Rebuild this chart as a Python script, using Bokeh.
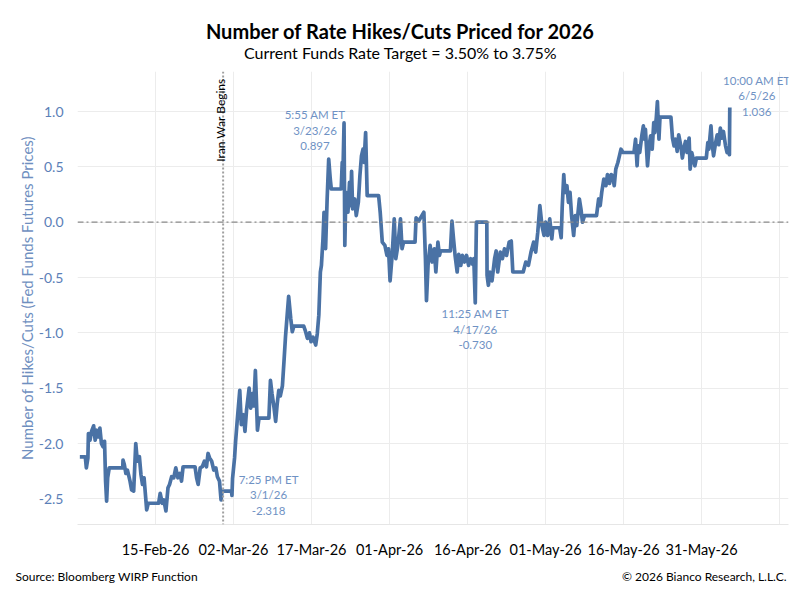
import numpy as np
import pandas as pd
from bokeh.layouts import column
from bokeh.models import (ColumnDataSource, DatetimeTickFormatter, FixedTicker,
                          Label, NumeralTickFormatter, Range1d, Span)
from bokeh.plotting import figure
from bokeh.embed import file_html
from bokeh.resources import INLINE

# days after 31-Jan-26 00:00 (intraday), and hikes/cuts priced for 2026
day_offsets = [
    0.45, 1.5, 1.7, 2.0, 2.1, 2.4, 2.7, 3.1, 3.4, 3.7, 4.0, 4.3, 4.6, 4.9, 5.2, 5.4, 5.6, 5.8, 6.1,
    8.7, 8.75, 9.0, 9.3, 9.6, 10.1, 10.4, 10.8, 11.2, 11.5, 11.9, 12.2, 12.5, 12.8, 13.3, 13.6,
    15.6, 15.9, 16.3, 16.6, 17.0, 17.4, 17.7, 18.1, 18.5, 18.9, 19.3, 19.7, 20.0, 20.3,
    22.6, 22.9, 23.2, 23.6, 24.0, 24.4, 24.8, 25.1, 25.4, 25.8, 26.2, 26.6, 26.9, 27.3, 27.6, 27.8,
    29.6, 29.7, 29.81, 30.2, 30.4, 30.7, 31.2, 31.5, 31.9, 32.2, 32.5, 33.0, 33.3, 33.6, 33.9,
    34.2, 34.6, 34.9, 36.8, 37.1, 37.4, 37.8, 38.1, 38.4, 38.7, 39.0, 39.4, 39.7, 40.0, 40.3,
    40.6, 41.0, 41.3, 41.6, 43.5, 43.8, 44.2, 44.6, 44.9, 45.3, 45.8, 46.1, 46.4, 46.7, 46.9,
    47.2, 47.4, 47.7, 48.0, 48.3, 48.6, 48.8, 50.7, 50.9, 51.0, 51.25, 51.4, 51.6, 52.0, 52.3,
    52.5, 52.7, 52.9, 53.3, 53.6, 54.0, 54.3, 54.6, 54.9, 55.1, 55.4, 55.7, 57.9, 58.2, 58.6,
    59.1, 59.5, 59.8, 60.1, 60.5, 60.9, 61.2, 61.6, 62.1, 62.4, 62.7, 64.9, 65.1, 65.6, 66.1,
    66.6, 66.9, 67.1, 67.4, 67.8, 68.2, 68.6, 68.9, 69.3, 69.6, 69.8, 71.7, 72.0, 72.3, 72.6,
    73.0, 73.3, 73.7, 74.0, 74.4, 74.8, 75.2, 75.6, 76.0, 76.2, 76.48, 76.7, 78.7, 78.75, 79.0,
    79.3, 79.7, 80.2, 80.5, 80.8, 81.3, 81.7, 82.1, 82.5, 83.0, 83.4, 83.7, 85.7, 86.2, 86.7,
    87.2, 87.7, 88.1, 88.5, 88.9, 89.3, 89.7, 90.0, 90.4, 90.8, 91.2, 91.4, 92.7, 93.0, 93.2,
    93.5, 93.7, 94.1, 94.4, 94.7, 95.0, 95.4, 95.7, 96.0, 96.5, 96.8, 97.1, 97.5, 99.8, 100.2,
    100.5, 100.8, 101.2, 101.6, 101.9, 102.3, 102.6, 102.9, 103.2, 103.5, 103.9, 104.2, 104.5,
    104.9, 107.0, 107.3, 107.6, 107.8, 108.1, 108.5, 108.8, 109.0, 109.2, 109.6, 109.9, 110.2,
    110.5, 110.8, 111.0, 111.3, 111.5, 111.8, 112.0, 114.1, 114.4, 114.7, 115.0, 115.3, 115.6,
    116.0, 116.3, 116.6, 116.9, 117.2, 117.6, 117.8, 118.1, 118.4, 118.7, 119.0, 120.9, 121.2,
    121.4, 121.8, 122.0, 122.3, 122.7, 123.0, 123.3, 123.6, 123.9, 124.2, 124.6, 124.9, 125.2,
    125.35, 125.4, 125.42,
]
hikes_cuts = [
    -2.12, -2.12, -2.22, -2.13, -1.91, -1.97, -1.89, -1.84, -1.97, -1.88, -1.94, -1.86, -2.00, -2.03, -1.98, -2.34, -2.52, -2.31, -2.22,
    -2.22, -2.15, -2.19, -2.27, -2.24, -2.34, -2.42, -2.43, -2.00, -2.16, -2.12, -2.28, -2.37, -2.31, -2.60, -2.54,
    -2.54, -2.45, -2.54, -2.51, -2.61, -2.40, -2.37, -2.30, -2.31, -2.22, -2.31, -2.27, -2.34, -2.21,
    -2.21, -2.31, -2.37, -2.22, -2.21, -2.16, -2.21, -2.09, -2.13, -2.16, -2.24, -2.22, -2.30, -2.34, -2.51, -2.43,
    -2.43, -2.47, -2.318, -2.13, -1.98, -1.80, -1.52, -1.83, -1.74, -1.89, -1.70, -1.50, -1.68, -1.55, -1.66,
    -1.34, -1.88, -1.77, -1.77, -1.43, -1.55, -1.68, -1.80, -1.64, -1.52, -1.57, -1.48, -1.26, -1.03, -0.85,
    -0.67, -0.87, -0.99, -0.94, -0.94, -0.98, -1.05, -1.00, -1.08, -1.04, -1.11, -1.01, -0.84, -0.45, -0.39,
    -0.15, 0.09, -0.24, 0.21, 0.57, 0.39, 0.30, 0.30, 0.54, 0.36, 0.897, -0.21, 0.27, 0.09, 0.36,
    0.15, 0.46, 0.12, 0.21, 0.06, 0.18, 0.42, 0.60, 0.66, 0.54, 0.81, 0.24, 0.24, 0.09, -0.18,
    -0.21, -0.30, -0.24, -0.53, -0.30, 0.03, -0.33, -0.21, 0.03, -0.24, -0.18, -0.18, 0.04, 0.01, 0.05,
    0.09, -0.33, -0.71, -0.39, -0.21, -0.36, -0.24, -0.45, -0.18, -0.30, -0.26, -0.26, 0.01, -0.15, -0.30,
    -0.45, -0.29, -0.39, -0.30, -0.36, -0.30, -0.39, -0.33, -0.38, -0.33, -0.730, 0.00, 0.00, -0.48, -0.57,
    -0.45, -0.53, -0.33, -0.26, -0.45, -0.27, -0.33, -0.24, -0.30, -0.18, -0.17, -0.45, -0.45, -0.36, -0.39,
    -0.27, -0.18, -0.27, -0.09, 0.15, -0.03, -0.12, 0.00, -0.12, 0.03, -0.15, -0.05, -0.05, -0.14, 0.14,
    0.43, 0.27, 0.33, 0.18, 0.27, 0.06, -0.12, 0.06, -0.03, 0.21, 0.12, 0.00, 0.06, 0.06, 0.21,
    0.15, 0.27, 0.39, 0.33, 0.43, 0.35, 0.43, 0.42, 0.33, 0.48, 0.54, 0.60, 0.66,
    0.63, 0.63, 0.75, 0.51, 0.69, 0.63, 0.78, 0.87, 0.75, 0.84, 0.51, 0.69, 0.78,
    0.66, 0.90, 0.81, 0.95, 1.09, 0.75, 0.95, 0.95, 0.76, 0.69, 0.75, 0.64, 0.79,
    0.69, 0.58, 0.67, 0.73, 0.63, 0.76, 0.48, 0.63, 0.57, 0.51, 0.58, 0.58, 0.72,
    0.66, 0.87, 0.72, 0.60, 0.72, 0.79, 0.70, 0.85, 0.76, 0.82, 0.69, 0.63, 0.67,
    0.61, 0.93, 1.036,
]

# labelled points
note_times = ["2026-03-01 19:25", "2026-03-23 05:55", "2026-04-17 11:25", "2026-06-05 10:00"]
note_values = [-2.318, 0.897, -0.730, 1.036]
note_texts = ["7:25 PM ET\n3/1/26\n-2.318", "5:55 AM ET\n3/23/26\n0.897",
              "11:25 AM ET\n4/17/26\n-0.730", "10:00 AM ET\n6/5/26\n1.036"]

tick_dates = ["2026-02-15", "2026-03-02", "2026-03-17", "2026-04-01",
              "2026-04-16", "2026-05-01", "2026-05-16", "2026-05-31"]
grid_dates = ["2026-01-31"] + tick_dates + ["2026-06-15"]
y_ticks = [-2.5, -2.0, -1.5, -1.0, -0.5, 0.0, 0.5, 1.0]
war_date = "2026-02-28"

FONT = "Lato"
LINE = "#4a72a5"
NOTE = "#6f92c4"
LEFT, RIGHT = 77, 12   # side borders of the chart


def ms(s):
    return pd.Timestamp(s).value / 1e6


def text_strip(height, y0, left=0, right=0):
    # plain strip for header / footer texts; x and y are page px (y runs down)
    f = figure(width=800, height=height, output_backend="svg", toolbar_location=None,
               x_range=Range1d(left, 800 - right), y_range=Range1d(y0 + height, y0),
               x_axis_location=None, y_axis_location=None, min_border=0,
               min_border_left=left, min_border_right=right)
    f.outline_line_color = None
    f.grid.visible = False
    return f


times = pd.Timestamp("2026-01-31") + pd.to_timedelta(np.array(day_offsets), unit="D")
source = ColumnDataSource(pd.DataFrame({'Time': times, 'Hikes': hikes_cuts}))

p = figure(x_axis_type="datetime", width=800, height=496, output_backend="svg",
           toolbar_location=None, min_border_left=LEFT, min_border_right=RIGHT,
           min_border_top=7, min_border_bottom=33,
           x_range=Range1d(ms("2026-01-31"), ms("2026-06-16 17:00")),
           y_range=Range1d(-2.732, 1.362))
p.outline_line_color = None

# zero line and war start
p.add_layout(Span(location=0, dimension='width', line_color="#8a8a8a",
                  line_width=1.3, line_dash="6 3 2 3"))
p.add_layout(Span(location=ms(war_date), dimension='height', line_color="#a0a0a0",
                  line_width=2, line_dash="2 2"))
p.add_layout(Label(x=ms(war_date), y=1.30, text="Iran War Begins", angle=np.pi / 2,
                   text_align="right", text_baseline="alphabetic", x_offset=-3,
                   text_font=FONT, text_font_size="12px", text_color="black"))

p.line(x='Time', y='Hikes', source=source, line_width=3.7, color=LINE,
       line_join="round")

# point notes (offsets in px from the labelled point)
offsets = [(36, 6), (-29, 15), (0, -4), (27, 34)]
for t, v, txt, (dx, dy) in zip(note_times, note_values, note_texts, offsets):
    p.add_layout(Label(x=ms(t), y=v, text=txt, x_offset=dx, y_offset=dy,
                       text_align="center", text_baseline="top", text_line_height=1.2,
                       text_font=FONT, text_font_size="11.5px", text_color=NOTE))

# axes
p.xaxis.ticker = FixedTicker(ticks=[ms(d) for d in tick_dates])
p.xaxis.formatter = DatetimeTickFormatter(days="%d-%b-%y", months="%d-%b-%y",
                                          years="%d-%b-%y", hours="%d-%b-%y")
p.xgrid.ticker = FixedTicker(ticks=[ms(d) for d in grid_dates])
p.yaxis.ticker = FixedTicker(ticks=y_ticks)
p.yaxis.formatter = NumeralTickFormatter(format="0.0")

p.xaxis.major_label_text_font = FONT
p.xaxis.major_label_text_font_size = "14.5px"
p.xaxis.major_label_text_color = "black"
p.xaxis.major_label_standoff = 10
p.xaxis.axis_line_color = "#e6e6e6"
p.xaxis.major_tick_line_color = None
p.xaxis.minor_tick_line_color = None

p.yaxis.axis_label = "Number of Hikes/Cuts (Fed Funds Futures Prices)"
p.yaxis.axis_label_text_font = FONT
p.yaxis.axis_label_text_font_style = "normal"
p.yaxis.axis_label_text_font_size = "15px"
p.yaxis.axis_label_text_color = "#6f8fbf"
p.yaxis.axis_label_standoff = 0
p.yaxis.major_label_text_font = FONT
p.yaxis.major_label_text_font_size = "14px"
p.yaxis.major_label_text_color = "#5b80b8"
p.yaxis.major_label_standoff = 8
p.yaxis.axis_line_color = None
p.yaxis.major_tick_line_color = None
p.yaxis.minor_tick_line_color = None

p.xgrid.grid_line_color = "#ececec"
p.ygrid.grid_line_color = "#ececec"

# title and subtitle
head = text_strip(64, 0, LEFT, RIGHT)
head.add_layout(Label(x=400, y=18, text="Number of Rate Hikes/Cuts Priced for 2026",
                      text_align="center", text_baseline="top", text_font=FONT,
                      text_font_size="20px", text_font_style="bold", text_color="black"))
head.add_layout(Label(x=400, y=42.5, text="Current Funds Rate Target = 3.50% to 3.75%",
                      text_align="center", text_baseline="top", text_font=FONT,
                      text_font_size="16px", text_color="black"))

# footer, kept out of the chart's frame alignment
foot = text_strip(40, 560)
foot.add_layout(Label(x=15, y=568.5, text="Source: Bloomberg WIRP Function",
                      text_align="left", text_baseline="top", text_font=FONT,
                      text_font_size="12px", text_color="black"))
foot.add_layout(Label(x=786, y=568.5, text="\u00a9 2026 Bianco Research, L.L.C.",
                      text_align="right", text_baseline="top", text_font=FONT,
                      text_font_size="12px", text_color="black"))

page = column(column(head, p, spacing=0), column(foot), spacing=0)
open("out.html", "w").write(file_html(page, INLINE))
